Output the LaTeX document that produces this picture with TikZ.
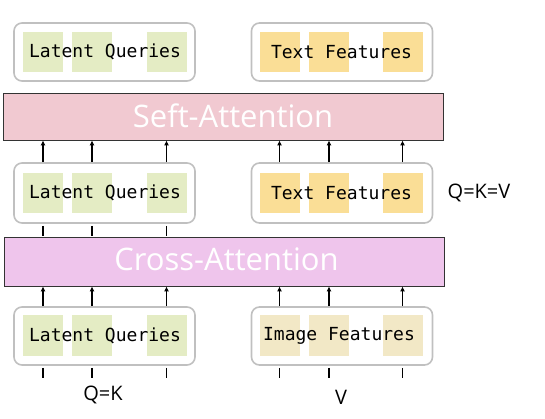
\documentclass[tikz,border=0pt]{standalone}
\usepackage{fontspec}
\setmainfont{Open Sans}
\newfontfamily\tokenfont{DejaVu Sans Mono}
\usetikzlibrary{arrows.meta}

\definecolor{selfpink}{RGB}{241,201,209}
\definecolor{crosspink}{RGB}{239,197,236}
\definecolor{latentgreen}{RGB}{228,236,196}
\definecolor{textyellow}{RGB}{250,222,150}
\definecolor{imagebeige}{RGB}{242,232,198}
\definecolor{boxgray}{RGB}{192,192,192}

\begin{document}
\begin{tikzpicture}[>={Latex[length=5pt,width=5pt]}, x=1pt, y=-1pt,
  group/.style={draw=boxgray, line width=1.6pt, rounded corners=8pt, minimum width=181pt, minimum height=58pt},
  token/.style={minimum width=40pt, minimum height=40pt, inner sep=0pt},
  tokentext/.style={font=\tokenfont\fontsize{18}{20}\selectfont, inner sep=0pt},
  attn/.style={draw=black!80, line width=0.8pt, minimum width=440pt, minimum height=48pt},
  attntext/.style={text=white, inner sep=0pt, font=\fontsize{31}{36}\selectfont},
  link/.style={line width=1.1pt},
  qkv/.style={font=\fontsize{20}{24}\selectfont}]

  \useasboundingbox (0,0) rectangle (545,419);

  % top row
  \node[group] (lq1) at (104.5,52) {};
  \node[token, fill=latentgreen] (lq1a) at (43,52) {};
  \node[token, fill=latentgreen] (lq1b) at (92,52) {};
  \node[token, fill=latentgreen] (lq1c) at (166.5,52) {};
  \node[tokentext] at (105,52) {Latent Queries};

  \node[group] (tf1) at (342,52) {};
  \node[token, fill=textyellow] (tf1a) at (279.5,52) {};
  \node[token, fill=textyellow] (tf1b) at (329,52) {};
  \node[token, fill=textyellow] (tf1c) at (402.5,52) {};
  \node[tokentext] at (341.5,52) {Text Features};

  \node[attn, fill=selfpink, minimum height=47pt] (sa) at (223.5,116.5) {};
  \node[attntext] (satext) at (233,116) {Seft-Attention};

  % middle row
  \node[group, minimum height=60pt] (lq2) at (104.5,193) {};
  \node[token, fill=latentgreen] (lq2a) at (43,193) {};
  \node[token, fill=latentgreen] (lq2b) at (92,193) {};
  \node[token, fill=latentgreen] (lq2c) at (166.5,193) {};
  \node[tokentext] at (105,193) {Latent Queries};

  \node[group, minimum height=60pt] (tf2) at (342,193) {};
  \node[token, fill=textyellow] (tf2a) at (279.5,193) {};
  \node[token, fill=textyellow] (tf2b) at (329,193) {};
  \node[token, fill=textyellow] (tf2c) at (402.5,193) {};
  \node[tokentext] at (341.5,193) {Text Features};

  \node[qkv] (qkv) at (479,193) {Q=K=V};

  \draw[link, ->] (lq2a |- lq2.north) -- (lq2a |- sa.south);
  \draw[link, ->] (lq2b |- lq2.north) -- (lq2b |- sa.south);
  \draw[link, ->] (lq2c |- lq2.north) -- (lq2c |- sa.south);
  \draw[link, ->] (tf2a |- tf2.north) -- (tf2a |- sa.south);
  \draw[link, ->] (tf2b |- tf2.north) -- (tf2b |- sa.south);
  \draw[link, ->] (tf2c |- tf2.north) -- (tf2c |- sa.south);

  \node[attn, fill=crosspink, minimum height=49pt] (ca) at (224,261.5) {};
  \node[attntext] (catext) at (226.5,259.5) {Cross-Attention};

  \draw[link, shorten <=2pt, shorten >=1pt] (lq2a |- lq2.south) -- (lq2a |- ca.north);
  \draw[link, shorten <=2pt, shorten >=1pt] (lq2b |- lq2.south) -- (lq2b |- ca.north);
  \draw[link, shorten <=2pt, shorten >=1pt] (lq2c |- lq2.south) -- (lq2c |- ca.north);

  % bottom row
  \node[group] (lq3) at (104.5,336) {};
  \node[token, fill=latentgreen, minimum height=41pt] (lq3a) at (43,335.5) {};
  \node[token, fill=latentgreen, minimum height=41pt] (lq3b) at (92,335.5) {};
  \node[token, fill=latentgreen, minimum height=41pt] (lq3c) at (166.5,335.5) {};
  \node[tokentext] at (105,336) {Latent Queries};

  \node[group] (if3) at (342,336) {};
  \node[token, fill=imagebeige, minimum height=41pt] (if3a) at (279.5,335.5) {};
  \node[token, fill=imagebeige, minimum height=41pt] (if3b) at (329,335.5) {};
  \node[token, fill=imagebeige, minimum height=41pt] (if3c) at (402.5,335.5) {};
  \node[tokentext] at (339,336) {Image Features};

  \draw[link, ->] (lq3a |- lq3.north) -- (lq3a |- ca.south);
  \draw[link, ->] (lq3b |- lq3.north) -- (lq3b |- ca.south);
  \draw[link, ->] (lq3c |- lq3.north) -- (lq3c |- ca.south);
  \draw[link, ->] (if3a |- if3.north) -- (if3a |- ca.south);
  \draw[link, ->] (if3b |- if3.north) -- (if3b |- ca.south);
  \draw[link, ->] (if3c |- if3.north) -- (if3c |- ca.south);

  \coordinate (inlq) at (0,378);
  \draw[link, shorten <=2pt] (lq3a |- lq3.south) -- (lq3a |- inlq);
  \draw[link, shorten <=2pt] (lq3b |- lq3.south) -- (lq3b |- inlq);
  \draw[link, shorten <=2pt] (lq3c |- lq3.south) -- (lq3c |- inlq);
  \draw[link, shorten <=2pt] (if3a |- if3.south) -- (if3a |- inlq);
  \draw[link, shorten <=2pt] (if3b |- if3.south) -- (if3b |- inlq);
  \draw[link, shorten <=2pt] (if3c |- if3.south) -- (if3c |- inlq);

  \node[qkv] (qk) at (103,395) {Q=K};
  \node[qkv] (v) at (341,397) {V};

\end{tikzpicture}
\end{document}
